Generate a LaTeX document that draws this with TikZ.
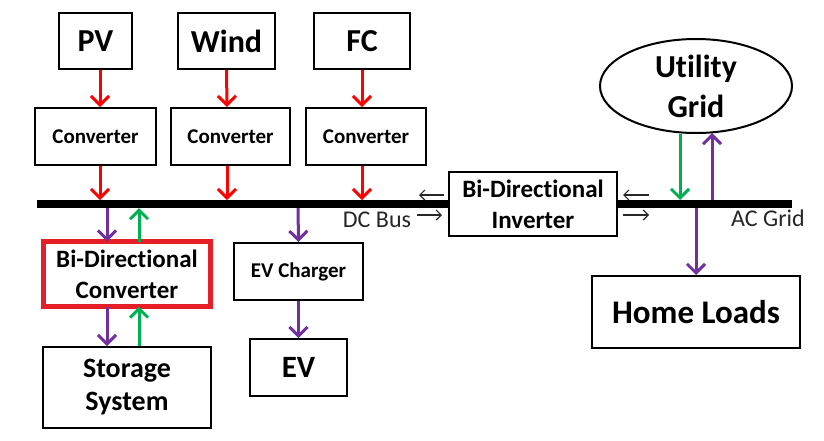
\documentclass[tikz,border=0pt]{standalone}
\usepackage{fontspec}
\setmainfont{Carlito}[Ligatures=NoCommon]
\usetikzlibrary{arrows.meta,shapes.geometric}
\definecolor{myred}{RGB}{255,0,0}
\definecolor{mygreen}{RGB}{0,176,80}
\definecolor{mypurple}{RGB}{112,48,160}
\definecolor{boxred}{RGB}{230,30,40}
\definecolor{thingray}{RGB}{40,40,40}
\tikzset{
  box/.style={draw=black,line width=2pt,fill=white,inner sep=0pt,align=center,text=black},
  big/.style={font=\bfseries\fontsize{32}{40}\selectfont},
  mid/.style={font=\bfseries\fontsize{28}{33}\selectfont},
  small/.style={font=\bfseries\fontsize{21}{26}\selectfont},
  two/.style={font=\bfseries\fontsize{25}{31}\selectfont},
  lbl/.style={font=\fontsize{24}{28}\selectfont,text=black!85,inner sep=0pt},
  flowtip/.tip={Straight Barb[length=9pt,width=18pt,line width=3pt]},
  thintip/.tip={Straight Barb[length=5pt,width=10pt,line width=1.2pt]},
  flow/.style={line width=3pt,-flowtip},
  redf/.style={flow,draw=myred},
  greenf/.style={flow,draw=mygreen},
  purpf/.style={flow,draw=mypurple},
  thin/.style={draw=thingray,line width=1.2pt,-thintip}
}
\begin{document}
\begin{tikzpicture}[x=1pt,y=-1pt]
\useasboundingbox (0,0) rectangle (824,440);
% bus
\coordinate (busL) at (37,204);
\coordinate (busR) at (792,204);
\draw[line width=8pt] (busL) -- (busR);
% sources
\node[box,big,minimum width=73pt,minimum height=56pt] (pv) at (95.5,41) {PV};
\node[box,big,minimum width=97pt,minimum height=56pt] (wind) at (226.5,41) {Wind};
\node[box,big,minimum width=96pt,minimum height=56pt] (fc) at (362,41) {FC};
\node[box,small,minimum width=121pt,minimum height=57pt] (c1) at (95.5,136.5) {Converter};
\node[box,small,minimum width=119pt,minimum height=57pt] (c2) at (230.5,136.5) {Converter};
\node[box,small,minimum width=120pt,minimum height=57pt] (c3) at (366,136.5) {Converter};
% bus tap coordinates
\coordinate (b1) at (100,200);
\coordinate (b2) at (227,200);
\coordinate (b3) at (362,200);
\draw[redf] ([xshift=4.5pt]pv.south) -- ([xshift=4.5pt]c1.north);
\draw[redf] (wind.south) -- ([xshift=-3.5pt]c2.north);
\draw[redf] (fc.south) -- ([xshift=-4pt]c3.north);
\draw[redf] ([xshift=4.5pt]c1.south) -- (b1);
\draw[redf] ([xshift=-3.5pt]c2.south) -- (b2);
\draw[redf] ([xshift=-4pt]c3.south) -- (b3);
% storage branch
\node[box,two,draw=boxred,line width=5pt,minimum width=167pt,minimum height=65pt] (bdc) at (127,274) {Bi-Directional\\Converter};
\node[box,mid,minimum width=168pt,minimum height=81pt] (sto) at (127,387.5) {Storage\\System};
\coordinate (p1) at (107,208);
\coordinate (g1) at (139,208);
\draw[purpf] (p1) -- ([xshift=-20pt,yshift=-2.5pt]bdc.north);
\draw[greenf] ([xshift=12pt,yshift=-2.5pt]bdc.north) -- (g1);
\draw[purpf] ([xshift=-20pt,yshift=2.5pt]bdc.south) -- ([xshift=-20pt]sto.north);
\draw[greenf] ([xshift=12pt]sto.north) -- ([xshift=12pt,yshift=2.5pt]bdc.south);
% EV branch
\node[box,small,minimum width=129pt,minimum height=57pt] (evc) at (298.5,271.5) {EV Charger};
\node[box,font=\bfseries\fontsize{31}{36}\selectfont,minimum width=97pt,minimum height=57pt] (ev) at (298.5,367.5) {EV};
\coordinate (p2) at (298,208);
\draw[purpf] (p2) -- (evc.north);
\draw[purpf] (evc.south) -- (ev.north);
% inverter
\node[box,two,minimum width=168pt,minimum height=64pt] (inv) at (533,204) {Bi-Directional\\Inverter};
\draw[thin] ([xshift=-4pt,yshift=9pt]inv.west) -- ([xshift=-29pt,yshift=9pt]inv.west);
\draw[thin] ([xshift=-31pt,yshift=-11pt]inv.west) -- ([xshift=-6pt,yshift=-11pt]inv.west);
\draw[thin] ([xshift=31pt,yshift=9pt]inv.east) -- ([xshift=5pt,yshift=9pt]inv.east);
\draw[thin] ([xshift=5pt,yshift=-11pt]inv.east) -- ([xshift=31pt,yshift=-11pt]inv.east);
\node[lbl] (dcl) at (377,220) {DC Bus};
\node[lbl] (acl) at (768,218) {AC Grid};
% utility grid
\node[draw=black,line width=2pt,ellipse,inner sep=0pt,minimum width=192pt,minimum height=94pt,align=center,big] (ug) at (696,86) {Utility\\Grid};
\coordinate (g2) at (680,200);
\coordinate (p3) at (712,200);
\draw[greenf] ([xshift=-16pt]ug.south) -- (g2);
\draw[purpf] (p3) -- ([xshift=16pt,yshift=1pt]ug.south);
% home loads
\node[box,font=\bfseries\fontsize{33}{38}\selectfont,minimum width=208pt,minimum height=72pt] (home) at (696,312) {Home Loads};
\coordinate (p4) at (696,208);
\draw[purpf] (p4) -- (home.north);
\end{tikzpicture}
\end{document}
